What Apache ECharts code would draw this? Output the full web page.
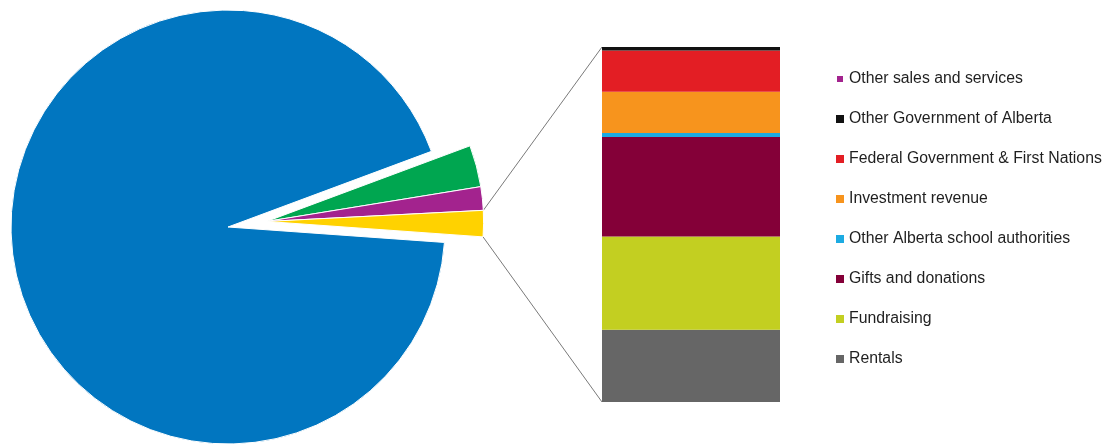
<!DOCTYPE html>
<html>
<head>
<meta charset="utf-8">
<script src="https://cdn.jsdelivr.net/npm/echarts@6/dist/echarts.min.js"></script>
<style>
html,body{margin:0;padding:0;background:#fff;}
#chart{width:1107px;height:445px;}
</style>
</head>
<body>
<div id="chart"></div>
<script>
// ---- data ----
const pieCategories = ['Alberta Education', 'Fees', 'Other sales and services', 'Other'];
const pieValues = [93.2, 3.1, 1.75, 1.95];
const pieColors = ['#0176c0', '#00a650', '#a3238e', '#ffd200'];

const barCategories = ['Rentals', 'Fundraising', 'Gifts and donations', 'Other Alberta school authorities',
  'Investment revenue', 'Federal Government & First Nations', 'Other Government of Alberta'];
const barValues = [20.3, 26.3, 28.0, 1.1, 11.6, 11.6, 1.0];
const barColors = ['#666666', '#c3cf21', '#840038', '#1cabe2', '#f7941d', '#e31e24', '#111111'];

const legendOrder = ['Other sales and services', 'Other Government of Alberta', 'Federal Government & First Nations',
  'Investment revenue', 'Other Alberta school authorities', 'Gifts and donations', 'Fundraising', 'Rentals'];

// ---- layout ----
const pieCenter = [228, 227];
const pieRadius = 217;
const startAngle = 20.4;
const explode = 39;

const total = pieValues.reduce((a, b) => a + b, 0);
const groupValue = pieValues.slice(1).reduce((a, b) => a + b, 0);
const groupDeg = groupValue / total * 360;
const midRad = (startAngle - groupDeg / 2) * Math.PI / 180;
const center2 = [pieCenter[0] + explode * Math.cos(midRad), pieCenter[1] - explode * Math.sin(midRad)];

const transparent = { color: 'rgba(0,0,0,0)', borderWidth: 0 };

const chart = echarts.init(document.getElementById('chart'), null, { renderer: 'canvas' });

const barSum = barValues.reduce((a, b) => a + b, 0);

const option = {
  animation: false,
  backgroundColor: '#ffffff',
  legend: {
    data: legendOrder,
    orient: 'vertical',
    left: 835,
    top: 70,
    padding: 0,
    icon: 'rect',
    itemWidth: 8,
    itemHeight: 8,
    itemGap: 22,
    selectedMode: false,
    textStyle: { fontFamily: 'Liberation Sans, Arial, sans-serif', fontSize: 15.8, color: '#1f1f1f', lineHeight: 18 }
  },
  grid: { left: 602, top: 47, width: 178, height: 355 },
  xAxis: { type: 'category', data: ['Other'], show: false },
  yAxis: { type: 'value', min: 0, max: barSum, show: false },
  series: [
    {
      type: 'pie',
      name: 'main',
      center: pieCenter,
      radius: [0, pieRadius],
      startAngle: startAngle,
      clockwise: true,
      label: { show: false },
      labelLine: { show: false },
      silent: true,
      emphasis: { disabled: true },
      data: [
        { name: '', value: groupValue, itemStyle: transparent },
        { name: pieCategories[0], value: pieValues[0], itemStyle: { color: pieColors[0], borderColor: '#fff', borderWidth: 1 } }
      ]
    },
    {
      type: 'pie',
      name: 'exploded',
      center: center2,
      radius: [0, pieRadius],
      startAngle: startAngle,
      clockwise: true,
      label: { show: false },
      labelLine: { show: false },
      silent: true,
      emphasis: { disabled: true },
      data: [
        { name: pieCategories[1], value: pieValues[1], itemStyle: { color: pieColors[1], borderColor: '#fff', borderWidth: 1 } },
        { name: pieCategories[2], value: pieValues[2], itemStyle: { color: pieColors[2], borderColor: '#fff', borderWidth: 1 } },
        { name: pieCategories[3], value: pieValues[3], itemStyle: { color: pieColors[3], borderColor: '#fff', borderWidth: 1 } },
        { name: ' ', value: pieValues[0], itemStyle: transparent }
      ]
    }
  ].concat(barCategories.map((name, i) => ({
    type: 'bar',
    name: name,
    stack: 'other',
    barWidth: '100%',
    silent: true,
    itemStyle: { color: barColors[i] },
    emphasis: { disabled: true },
    data: [barValues[i]]
  })))
};

chart.setOption(option);

// connector lines: from the outer corners of the "Other" slice to the bar's corners
const otherStartDeg = startAngle - (pieValues[1] + pieValues[2]) / total * 360;
const otherEndDeg = otherStartDeg - pieValues[3] / total * 360;
function polar(c, r, deg) {
  const a = deg * Math.PI / 180;
  return [c[0] + r * Math.cos(a), c[1] - r * Math.sin(a)];
}
const pTop = polar(center2, pieRadius, otherStartDeg);
const pBot = polar(center2, pieRadius, otherEndDeg);
const gridRect = chart.getModel().getComponent('grid').coordinateSystem.getRect();
const barTop = chart.convertToPixel({ gridIndex: 0 }, [0, barSum]);
const barBot = chart.convertToPixel({ gridIndex: 0 }, [0, 0]);

chart.setOption({
  graphic: [
    { type: 'line', silent: true, shape: { x1: pTop[0], y1: pTop[1], x2: gridRect.x, y2: barTop[1] }, style: { stroke: '#7a7a7a', lineWidth: 1 } },
    { type: 'line', silent: true, shape: { x1: pBot[0], y1: pBot[1], x2: gridRect.x, y2: barBot[1] }, style: { stroke: '#7a7a7a', lineWidth: 1 } }
  ]
});
</script>
</body>
</html>
